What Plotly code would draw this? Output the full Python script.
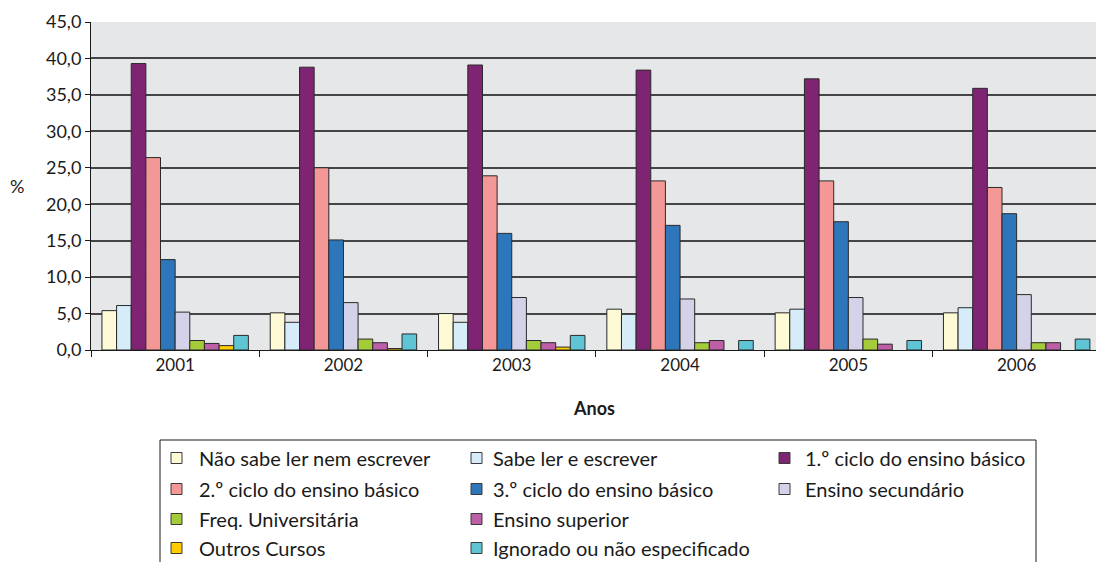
import plotly.graph_objects as go

# Years on the category axis
anos = ["2001", "2002", "2003", "2004", "2005", "2006"]

# Percentage of the population by education level, per year
nao_sabe_ler = [5.4, 5.1, 5.0, 5.6, 5.1, 5.1]
sabe_ler = [6.1, 3.8, 3.8, 4.9, 5.6, 5.8]
ciclo1 = [39.3, 38.8, 39.1, 38.4, 37.2, 35.9]
ciclo2 = [26.4, 25.0, 23.9, 23.2, 23.2, 22.3]
ciclo3 = [12.4, 15.1, 16.0, 17.1, 17.6, 18.7]
secundario = [5.2, 6.5, 7.2, 7.0, 7.2, 7.6]
freq_univ = [1.3, 1.5, 1.3, 1.0, 1.5, 1.0]
superior = [0.9, 1.0, 1.0, 1.3, 0.8, 1.0]
outros = [0.6, 0.2, 0.4, None, None, None]
ignorado = [2.0, 2.2, 2.0, 1.3, 1.3, 1.5]

series_names = [
    "Não sabe ler nem escrever",
    "Sabe ler e escrever",
    "1.º ciclo do ensino básico",
    "2.º ciclo do ensino básico",
    "3.º ciclo do ensino básico",
    "Ensino secundário",
    "Freq. Universitária",
    "Ensino superior",
    "Outros Cursos",
    "Ignorado ou não especificado",
]
series_values = [nao_sabe_ler, sabe_ler, ciclo1, ciclo2, ciclo3,
                 secundario, freq_univ, superior, outros, ignorado]
series_colors = ["#FFFAD6", "#D6ECF9", "#7E2472", "#F39896", "#2E76BA",
                 "#D4D2E8", "#A4CB39", "#BC5FA7", "#FFCC00", "#5FC5D5"]

y_ticks = [0, 5, 10, 15, 20, 25, 30, 35, 40, 45]

FONT = "Lato"
W, H = 1096, 562
L, T, B = 91, 22, 212          # plot area margins in pixels
PW, PH = W - L, H - T - B      # plot area width / height


def px_x(px):
    return (px - L) / PW


def px_y(py):
    return (H - B - py) / PH


fig = go.Figure()
for name, vals, col in zip(series_names, series_values, series_colors):
    fig.add_trace(go.Bar(
        x=anos, y=vals, name=name,
        marker=dict(color=col, line=dict(color="#2a2a2a", width=1)),
        showlegend=False,
    ))

# category width in pixels is ~168.3; right edge of the window cuts the last slot
cat_px = 168.3
x_right = -0.5 + PW / cat_px

fig.update_layout(
    width=W, height=H,
    margin=dict(l=L, r=0, t=T, b=B, pad=0),
    paper_bgcolor="white",
    plot_bgcolor="#E6E7E8",
    barmode="group",
    bargap=0.13,
    bargroupgap=0,
    separators=",.",
    font=dict(family=FONT, size=17, color="#1a1a1a"),
    xaxis=dict(
        type="category", range=[-0.5, x_right],
        showline=True, linecolor="#1a1a1a", linewidth=1,
        ticks="outside", tickson="boundaries", ticklen=6, tickcolor="#1a1a1a",
        showgrid=False, tickfont=dict(size=17),
    ),
    yaxis=dict(
        range=[0, 45], tickvals=y_ticks, tickformat=".1f",
        showline=True, linecolor="#1a1a1a", linewidth=1,
        ticks="outside", ticklen=5, tickcolor="#1a1a1a",
        showgrid=True, gridcolor="#454545", gridwidth=1.5,
        zeroline=False, tickfont=dict(size=18),
    ),
)

# axis titles
fig.add_annotation(text="%", x=px_x(17), y=px_y(186), xref="paper", yref="paper",
                   showarrow=False, font=dict(size=18), xanchor="center", yanchor="middle")
fig.add_annotation(text="<b>Anos</b>", x=px_x(594), y=px_y(408), xref="paper", yref="paper",
                   showarrow=False, font=dict(size=18), xanchor="center", yanchor="middle")

# legend box
fig.add_shape(type="rect", xref="paper", yref="paper",
              x0=px_x(160), x1=px_x(1036), y0=px_y(440), y1=px_y(580),
              line=dict(color="#1a1a1a", width=1), fillcolor="white", layer="above")

# legend entries: (column, row) for each series
legend_slots = [(0, 0), (1, 0), (2, 0), (0, 1), (1, 1), (2, 1),
                (0, 2), (1, 2), (0, 3), (1, 3)]
col_sq = [171, 471, 779]
col_tx = [197, 491, 803]
row_y = [458, 489, 519, 548]
sq = 11
for (c, r), name, col in zip(legend_slots, series_names, series_colors):
    cy = row_y[r]
    fig.add_shape(type="rect", xref="paper", yref="paper",
                  x0=px_x(col_sq[c]), x1=px_x(col_sq[c] + sq),
                  y0=px_y(cy - sq / 2), y1=px_y(cy + sq / 2),
                  line=dict(color="#3a3a3a", width=1), fillcolor=col, layer="above")
    fig.add_annotation(text=name, x=px_x(col_tx[c]), y=px_y(cy), xref="paper", yref="paper",
                       showarrow=False, xanchor="left", yanchor="middle",
                       font=dict(size=20))

fig.write_html("out.html")
